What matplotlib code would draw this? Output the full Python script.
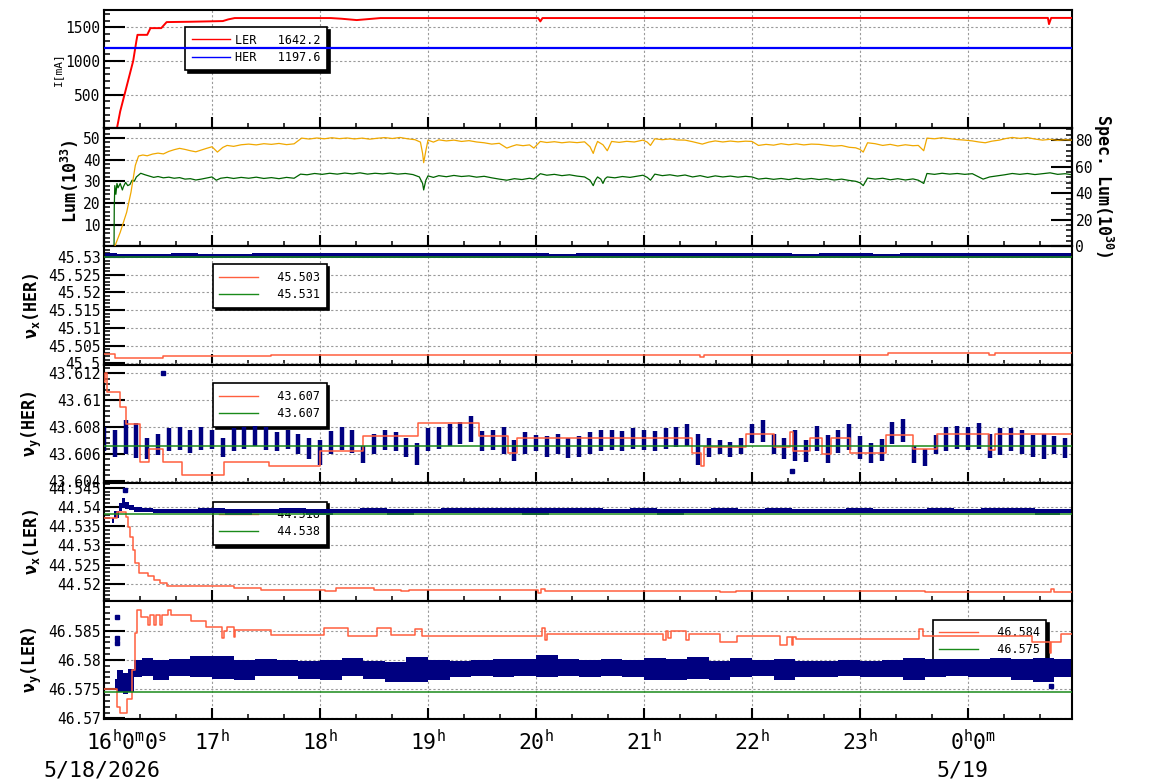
import matplotlib
matplotlib.use('Agg')
import matplotlib.pyplot as plt
from matplotlib.lines import Line2D
from matplotlib.ticker import FixedLocator, MultipleLocator, AutoMinorLocator, FuncFormatter

plt.rcParams['font.family'] = 'DejaVu Sans Mono'
plt.rcParams['mathtext.fontset'] = 'custom'
plt.rcParams['mathtext.rm'] = 'DejaVu Sans Mono'
plt.rcParams['mathtext.it'] = 'DejaVu Sans Mono'
plt.rcParams['mathtext.bf'] = 'DejaVu Sans Mono:bold'

# time axis: hours after 16:00 on 5/18/2026
T_END = 8.963
HOUR_TICKS = [0, 1, 2, 3, 4, 5, 6, 7, 8]
HOUR_LABELS = [r'16$^\mathrm{h}$0$^\mathrm{m}$0$^\mathrm{s}$', r'17$^\mathrm{h}$', r'18$^\mathrm{h}$',
               r'19$^\mathrm{h}$', r'20$^\mathrm{h}$', r'21$^\mathrm{h}$', r'22$^\mathrm{h}$',
               r'23$^\mathrm{h}$', r'0$^\mathrm{h}$0$^\mathrm{m}$']
DATE_LABELS = ['5/18/2026', '5/19']

# ---- panel 1: beam current [mA]
T_LER = [0, 0.12, 0.15, 0.19, 0.23, 0.27, 0.30, 0.31, 0.40, 0.43, 0.53, 0.58, 0.80, 1.10, 1.15, 1.21,
         2.10, 2.20, 2.34, 2.45, 2.56, 4.02, 4.04, 4.06, 8.74, 8.75, 8.77, 8.963]
I_LER = [0, 0, 250, 500, 750, 1000, 1300, 1390, 1390, 1490, 1490, 1580, 1585, 1595, 1620, 1640,
         1640, 1630, 1610, 1625, 1640, 1640, 1590, 1640, 1642, 1550, 1642, 1642]
T_HER = [0, 8.963]
I_HER = [1197.6, 1197.6]
CUR_LABELS = ['LER   1642.2', 'HER   1197.6']

# ---- panel 2: luminosity (left axis, green) and specific luminosity (right axis, yellow)
T_LUM = [0.093, 0.095, 0.10, 0.11, 0.12, 0.13, 0.15, 0.17, 0.18, 0.20, 0.22, 0.24, 0.26, 0.28, 0.30,
         0.34, 0.38, 0.42, 0.46, 0.50, 0.55, 0.60, 0.65, 0.70, 0.75, 0.80, 0.85, 0.90, 0.95, 1.00,
         1.04, 1.08, 1.14, 1.20, 1.27, 1.34, 1.41, 1.48, 1.55, 1.62, 1.69, 1.76, 1.82, 1.88, 1.95,
         2.02, 2.09, 2.16, 2.23, 2.30, 2.37, 2.44, 2.51, 2.58, 2.65, 2.72, 2.79, 2.86, 2.92, 2.95,
         2.96, 2.98, 3.00, 3.05, 3.10, 3.17, 3.24, 3.31, 3.38, 3.45, 3.52, 3.59, 3.66, 3.73, 3.80,
         3.87, 3.94, 3.98, 4.04, 4.10, 4.17, 4.24, 4.31, 4.38, 4.45, 4.50, 4.53, 4.55, 4.57, 4.60,
         4.62, 4.64, 4.66, 4.73, 4.80, 4.87, 4.94, 4.99, 5.03, 5.06, 5.10, 5.17, 5.24, 5.31, 5.38,
         5.45, 5.52, 5.59, 5.66, 5.73, 5.80, 5.87, 5.94, 6.00, 6.06, 6.13, 6.20, 6.27, 6.34, 6.41,
         6.48, 6.55, 6.62, 6.69, 6.76, 6.83, 6.90, 6.96, 7.00, 7.03, 7.07, 7.14, 7.21, 7.28, 7.35,
         7.42, 7.49, 7.54, 7.59, 7.62, 7.69, 7.76, 7.83, 7.90, 7.97, 8.04, 8.10, 8.14, 8.20, 8.27,
         8.34, 8.41, 8.48, 8.55, 8.62, 8.69, 8.76, 8.83, 8.90, 8.963]
LUM = [0, 18, 28, 24, 29, 27, 29, 26, 27.5, 29.5, 28, 28.5, 30.5, 30, 32,
       33.7, 33, 32.4, 31.8, 32.2, 31.6, 31.9, 31.4, 31.7, 31.0, 31.2, 30.6, 31.0, 31.5, 32.0,
       30.5, 31.4, 31.8, 31.3, 31.8, 31.4, 31.9, 31.3, 31.7, 31.2, 31.8, 31.4, 33.3, 33.0, 33.6,
       33.2, 33.7, 33.3, 33.8, 33.4, 33.9, 33.3, 33.7, 33.4, 33.8, 33.3, 33.6, 33.1, 32.0, 29.0,
       26.0, 30.5, 32.5, 31.8, 32.6, 32.1, 32.7, 32.2, 32.5, 31.9, 32.3, 31.6, 31.0, 30.5, 31.2,
       30.8, 31.4, 31.0, 33.5, 32.8, 33.2, 32.6, 33.0, 32.4, 32.0, 30.5, 28.0, 30.5, 32.0, 31.0,
       29.0, 31.2, 32.0, 31.6, 32.2, 31.8, 32.4, 32.8, 31.8, 30.5, 33.3, 32.6, 33.0, 32.4, 32.9,
       32.0, 32.6, 31.8, 32.5, 32.0, 32.4, 31.9, 32.3, 32.0, 31.0, 31.4, 30.9, 31.3, 30.8, 31.4,
       30.9, 31.3, 30.8, 31.2, 30.6, 31.0, 30.4, 30.0, 29.3, 28.0, 31.5, 31.0, 31.4, 30.7, 31.2,
       30.6, 31.1, 30.5, 29.0, 33.6, 33.2, 33.7, 33.3, 33.6, 33.2, 33.5, 32.0, 31.0, 32.0, 32.5,
       33.0, 33.6, 33.2, 33.6, 33.1, 33.5, 33.9, 33.2, 33.5, 33.0]
T_SPEC = [0.10, 0.15, 0.21, 0.25, 0.29, 0.32, 0.36, 0.40, 0.45, 0.50, 0.55, 0.60, 0.65, 0.70, 0.75,
          0.80, 0.85, 0.90, 0.95, 1.00, 1.05, 1.10, 1.14, 1.20, 1.27, 1.34, 1.41, 1.48, 1.55, 1.62,
          1.69, 1.76, 1.83, 1.90, 1.97, 2.04, 2.11, 2.18, 2.25, 2.32, 2.39, 2.46, 2.53, 2.60, 2.67,
          2.74, 2.81, 2.88, 2.93, 2.95, 2.96, 2.98, 3.00, 3.05, 3.10, 3.17, 3.24, 3.31, 3.38, 3.45,
          3.52, 3.59, 3.66, 3.73, 3.78, 3.82, 3.88, 3.94, 3.98, 4.04, 4.10, 4.17, 4.24, 4.31, 4.38,
          4.45, 4.50, 4.53, 4.55, 4.57, 4.62, 4.66, 4.70, 4.77, 4.84, 4.91, 4.99, 5.03, 5.06, 5.10,
          5.17, 5.24, 5.31, 5.38, 5.45, 5.54, 5.60, 5.66, 5.73, 5.80, 5.87, 5.94, 6.00, 6.06, 6.13,
          6.20, 6.27, 6.34, 6.41, 6.48, 6.55, 6.62, 6.69, 6.76, 6.83, 6.90, 6.96, 7.00, 7.03, 7.07,
          7.14, 7.21, 7.28, 7.35, 7.42, 7.49, 7.54, 7.59, 7.62, 7.69, 7.76, 7.83, 7.90, 7.97, 8.04,
          8.10, 8.16, 8.22, 8.29, 8.35, 8.41, 8.48, 8.55, 8.62, 8.69, 8.76, 8.83, 8.90, 8.963]
SPEC = [0, 10.5, 25.7, 40.8, 61, 68, 68.8, 68.2, 69.5, 70.2, 69.6, 71.5, 72.8, 73.8, 73.0,
        72.0, 71.2, 72.5, 73.8, 75.0, 71.0, 74.5, 76.0, 75.3, 76.5, 77.0, 76.4, 77.3, 76.8, 77.5,
        76.6, 77.2, 81.5, 80.8, 81.6, 81.0, 81.8, 81.1, 81.6, 80.9, 81.5, 80.7, 81.4, 81.9, 81.2,
        82.0, 81.0, 80.3, 78.5, 70.0, 63.0, 72.0, 80.0, 78.5, 80.2, 79.4, 80.0, 79.0, 79.6, 78.6,
        78.0, 77.0, 77.6, 74.0, 75.5, 76.5, 75.8, 76.4, 74.0, 79.0, 78.2, 78.8, 78.0, 78.6, 78.1,
        78.7, 75.0, 70.0, 75.0, 79.0, 76.5, 72.0, 79.0, 78.3, 79.1, 78.6, 80.0, 78.5, 76.0, 81.0,
        80.3, 80.9, 80.1, 80.0, 78.8, 77.0, 78.5, 79.4, 78.6, 79.3, 78.7, 79.2, 79.0, 76.0, 76.8,
        76.2, 77.3, 76.5, 77.2, 76.4, 77.0, 76.8, 76.1, 75.5, 75.9, 74.6, 74.2, 73.0, 71.0, 78.0,
        77.3, 76.0, 76.8, 75.6, 76.5, 75.8, 76.0, 72.0, 81.5, 81.0, 81.8, 81.1, 80.4, 80.0, 79.4,
        78.6, 78.0, 79.2, 80.0, 81.2, 82.0, 81.3, 81.9, 80.8, 80.0, 80.6, 79.8, 80.3, 80.0]

# ---- panel 3: nu_x(HER)
T_NXH_SET = [0, 0.10, 0.55, 1.55, 5.52, 5.56, 7.26, 8.19, 8.25, 8.963]
NXH_SET = [45.5027, 45.5016, 45.5020, 45.5025, 45.5018, 45.5025, 45.5028, 45.5025, 45.5028, 45.5028]
NXH_REF = 45.5300
T_NXH = [0, 0.25, 0.5, 0.75, 1, 1.25, 1.5, 1.75, 2, 2.25, 2.5, 2.75, 3, 3.25, 3.5, 3.75, 4, 4.25, 4.5,
         4.75, 5, 5.25, 5.5, 5.75, 6, 6.25, 6.5, 6.75, 7, 7.25, 7.5, 7.75, 8, 8.25, 8.5, 8.75, 8.963]
NXH_HI = [45.5310, 45.5309, 45.5309, 45.5310, 45.5309, 45.5309, 45.5311, 45.5311, 45.5310, 45.5310,
          45.5310, 45.5311, 45.5311, 45.5311, 45.5310, 45.5310, 45.5310, 45.5309, 45.5310, 45.5310,
          45.5310, 45.5311, 45.5312, 45.5310, 45.5310, 45.5310, 45.5309, 45.5310, 45.5310, 45.5309,
          45.5310, 45.5310, 45.5310, 45.5312, 45.5311, 45.5310, 45.5310]
NXH_LO = [45.5298, 45.5296, 45.5297, 45.5296, 45.5297, 45.5296, 45.5298, 45.5298, 45.5297, 45.5296,
          45.5297, 45.5298, 45.5297, 45.5298, 45.5298, 45.5297, 45.5297, 45.5296, 45.5297, 45.5298,
          45.5297, 45.5298, 45.5296, 45.5298, 45.5297, 45.5297, 45.5298, 45.5296, 45.5297, 45.5298,
          45.5297, 45.5298, 45.5297, 45.5296, 45.5297, 45.5298, 45.5297]
NXH_LABELS = ['  45.503', '  45.531']

# ---- panel 4: nu_y(HER)
T_NYH_SET = [0, 0.01, 0.03, 0.15, 0.20, 0.33, 0.42, 0.55, 0.72, 1.11, 1.53, 2.00, 2.40, 2.91, 3.47,
             3.74, 3.82, 5.44, 5.53, 5.56, 5.94, 6.20, 6.35, 6.38, 6.54, 6.65, 6.73, 6.91, 7.24, 7.49,
             7.71, 8.19, 8.25, 8.963]
NYH_SET = [43.6114, 43.6120, 43.6106, 43.6095, 43.6082, 43.6054, 43.6064, 43.6054, 43.6044, 43.6054,
           43.6051, 43.6062, 43.6073, 43.6083, 43.6073, 43.6061, 43.6072, 43.6061, 43.6051, 43.6065,
           43.6075, 43.6065, 43.6076, 43.6062, 43.6072, 43.6060, 43.6072, 43.6061, 43.6074, 43.6064,
           43.6075, 43.6063, 43.6075, 43.6075]
NYH_REF = 43.6066
T_NYH = [0.0, 0.1, 0.2, 0.3, 0.4, 0.5, 0.6, 0.7, 0.8, 0.9, 1.0, 1.1, 1.2, 1.3, 1.4, 1.5, 1.6, 1.7, 1.8,
         1.9, 2.0, 2.1, 2.2, 2.3, 2.4, 2.5, 2.6, 2.7, 2.8, 2.9, 3.0, 3.1, 3.2, 3.3, 3.4, 3.5, 3.6, 3.7,
         3.8, 3.9, 4.0, 4.1, 4.2, 4.3, 4.4, 4.5, 4.6, 4.7, 4.8, 4.9, 5.0, 5.1, 5.2, 5.3, 5.4, 5.5, 5.6,
         5.7, 5.8, 5.9, 6.0, 6.1, 6.2, 6.3, 6.4, 6.5, 6.6, 6.7, 6.8, 6.9, 7.0, 7.1, 7.2, 7.3, 7.4, 7.5,
         7.6, 7.7, 7.8, 7.9, 8.0, 8.1, 8.2, 8.3, 8.4, 8.5, 8.6, 8.7, 8.8, 8.9]
NYH_LO = [43.6062, 43.6058, 43.6060, 43.6057, 43.6056, 43.6059, 43.6062, 43.6063, 43.6061, 43.6063,
          43.6064, 43.6058, 43.6062, 43.6064, 43.6066, 43.6063, 43.6062, 43.6064, 43.6060, 43.6056,
          43.6052, 43.6060, 43.6063, 43.6061, 43.6053, 43.6060, 43.6063, 43.6062, 43.6058, 43.6052,
          43.6062, 43.6064, 43.6066, 43.6067, 43.6069, 43.6062, 43.6063, 43.6060, 43.6055, 43.6060,
          43.6062, 43.6058, 43.6060, 43.6057, 43.6058, 43.6060, 43.6062, 43.6063, 43.6062, 43.6064,
          43.6063, 43.6062, 43.6064, 43.6065, 43.6066, 43.6052, 43.6058, 43.6060, 43.6058, 43.6060,
          43.6068, 43.6069, 43.6060, 43.6056, 43.6055, 43.6054, 43.6062, 43.6053, 43.6061, 43.6063,
          43.6056, 43.6053, 43.6055, 43.6067, 43.6069, 43.6053, 43.6051, 43.6060, 43.6062, 43.6064,
          43.6063, 43.6064, 43.6057, 43.6059, 43.6062, 43.6060, 43.6058, 43.6056, 43.6060, 43.6057]
NYH_HI = [43.6080, 43.6078, 43.6085, 43.6083, 43.6072, 43.6075, 43.6079, 43.6080, 43.6078, 43.6080,
          43.6078, 43.6072, 43.6079, 43.6080, 43.6081, 43.6080, 43.6076, 43.6078, 43.6075, 43.6072,
          43.6070, 43.6077, 43.6080, 43.6078, 43.6066, 43.6075, 43.6078, 43.6076, 43.6072, 43.6068,
          43.6079, 43.6080, 43.6082, 43.6084, 43.6088, 43.6077, 43.6078, 43.6080, 43.6070, 43.6076,
          43.6074, 43.6073, 43.6075, 43.6072, 43.6073, 43.6076, 43.6078, 43.6078, 43.6077, 43.6079,
          43.6078, 43.6077, 43.6079, 43.6080, 43.6082, 43.6075, 43.6072, 43.6070, 43.6069, 43.6072,
          43.6082, 43.6085, 43.6075, 43.6072, 43.6078, 43.6070, 43.6081, 43.6074, 43.6078, 43.6082,
          43.6073, 43.6068, 43.6071, 43.6084, 43.6086, 43.6066, 43.6064, 43.6074, 43.6080, 43.6081,
          43.6080, 43.6083, 43.6075, 43.6079, 43.6079, 43.6078, 43.6074, 43.6075, 43.6073, 43.6072]
T_NYH_OUT = [0.55, 6.37]
NYH_OUT = [43.6120, 43.6047]
NYH_LABELS = ['  43.607', '  43.607']

# ---- panel 5: nu_x(LER)
T_NXL_SET = [0, 0.12, 0.20, 0.22, 0.24, 0.27, 0.29, 0.32, 0.41, 0.46, 0.52, 0.58, 1.20, 1.45, 2.05,
             2.15, 2.50, 2.75, 2.82, 4.02, 4.05, 4.08, 4.50, 5.15, 5.25, 5.70, 5.85, 7.60, 8.77, 8.80, 8.963]
NXL_SET = [44.5371, 44.5387, 44.5375, 44.5349, 44.5323, 44.5289, 44.5254, 44.5228, 44.5219, 44.5211,
           44.5203, 44.5195, 44.5189, 44.5184, 44.5182, 44.5189, 44.5184, 44.5182, 44.5184, 44.5177,
           44.5186, 44.5182, 44.5180, 44.5181, 44.5180, 44.5179, 44.5180, 44.5178, 44.5186, 44.5179, 44.5179]
NXL_REF = 44.53815
T_NXL = [0.07, 0.12, 0.15, 0.18, 0.21, 0.25, 0.30, 0.40, 0.50, 0.75, 1.0, 1.25, 1.5, 1.75, 2.0, 2.25,
         2.5, 2.75, 3.0, 3.25, 3.5, 3.75, 4.0, 4.25, 4.5, 4.75, 5.0, 5.25, 5.5, 5.75, 6.0, 6.25, 6.5,
         6.75, 7.0, 7.25, 7.5, 7.75, 8.0, 8.25, 8.5, 8.75, 8.963]
NXL_HI = [44.5372, 44.5390, 44.5410, 44.5424, 44.5412, 44.5405, 44.5400, 44.5398, 44.5395, 44.5395,
          44.5396, 44.5395, 44.5395, 44.5396, 44.5395, 44.5395, 44.5396, 44.5395, 44.5395, 44.5396,
          44.5397, 44.5397, 44.5397, 44.5396, 44.5396, 44.5395, 44.5396, 44.5395, 44.5395, 44.5396,
          44.5395, 44.5396, 44.5395, 44.5395, 44.5396, 44.5395, 44.5395, 44.5396, 44.5395, 44.5396,
          44.5396, 44.5395, 44.5395]
NXL_LO = [44.5359, 44.5372, 44.5390, 44.5398, 44.5395, 44.5392, 44.5388, 44.5386, 44.5384, 44.5384,
          44.5383, 44.5379, 44.5384, 44.5384, 44.5380, 44.5384, 44.5383, 44.5379, 44.5384, 44.5384,
          44.5384, 44.5384, 44.5379, 44.5384, 44.5384, 44.5384, 44.5383, 44.5380, 44.5384, 44.5384,
          44.5383, 44.5384, 44.5384, 44.5384, 44.5383, 44.5384, 44.5384, 44.5384, 44.5383, 44.5384,
          44.5384, 44.5379, 44.5384]
T_NXL_OUT = [0.19]
NXL_OUT = [44.5445]
NXL_LABELS = ['  44.518', '  44.538']

# ---- panel 6: nu_y(LER)
T_NYL_SET = [0, 0.12, 0.15, 0.21, 0.26, 0.29, 0.31, 0.34, 0.41, 0.43, 0.46, 0.48, 0.52, 0.54, 0.59,
             0.62, 0.81, 0.94, 1.09, 1.11, 1.14, 1.20, 1.21, 1.55, 2.04, 2.26, 2.53, 2.66, 2.88, 2.94,
             4.06, 4.08, 4.10, 5.18, 5.20, 5.22, 5.25, 5.39, 5.42, 5.70, 5.86, 6.26, 6.32, 6.37, 6.38,
             6.41, 7.55, 7.58, 8.59, 8.76, 8.77, 8.86, 8.963]
NYL_SET = [46.5750, 46.5720, 46.5709, 46.5734, 46.5783, 46.5846, 46.5886, 46.5874, 46.5860, 46.5877,
           46.5860, 46.5877, 46.5860, 46.5877, 46.5886, 46.5876, 46.5866, 46.5857, 46.5837, 46.5849,
           46.5857, 46.5840, 46.5851, 46.5843, 46.5854, 46.5841, 46.5854, 46.5843, 46.5853, 46.5841,
           46.5854, 46.5834, 46.5844, 46.5834, 46.5850, 46.5837, 46.5849, 46.5834, 46.5844, 46.5830,
           46.5841, 46.5826, 46.5840, 46.5826, 46.5839, 46.5835, 46.5852, 46.5841, 46.5831, 46.5811,
           46.5831, 46.5844, 46.5844]
NYL_REF = 46.57447
T_NYL = [0.10, 0.15, 0.20, 0.25, 0.30, 0.40, 0.5, 0.7, 0.9, 1.1, 1.3, 1.5, 1.7, 1.9, 2.1, 2.3, 2.5,
         2.7, 2.9, 3.1, 3.3, 3.5, 3.7, 3.9, 4.1, 4.3, 4.5, 4.7, 4.9, 5.1, 5.3, 5.5, 5.7, 5.9, 6.1,
         6.3, 6.5, 6.7, 6.9, 7.1, 7.3, 7.5, 7.7, 7.9, 8.1, 8.3, 8.5, 8.7, 8.9, 8.963]
NYL_LO = [46.5752, 46.5745, 46.5742, 46.5745, 46.5770, 46.5772, 46.5766, 46.5773, 46.5770, 46.5768,
          46.5766, 46.5773, 46.5772, 46.5767, 46.5765, 46.5773, 46.5767, 46.5762, 46.5763, 46.5766,
          46.5770, 46.5772, 46.5771, 46.5772, 46.5770, 46.5772, 46.5770, 46.5773, 46.5770, 46.5765,
          46.5766, 46.5768, 46.5765, 46.5770, 46.5772, 46.5766, 46.5771, 46.5770, 46.5772, 46.5771,
          46.5770, 46.5766, 46.5771, 46.5772, 46.5770, 46.5771, 46.5766, 46.5762, 46.5770, 46.5770]
NYL_HI = [46.5768, 46.5782, 46.5778, 46.5785, 46.5800, 46.5803, 46.5800, 46.5802, 46.5806, 46.5806,
          46.5800, 46.5801, 46.5800, 46.5798, 46.5800, 46.5803, 46.5798, 46.5797, 46.5805, 46.5800,
          46.5799, 46.5800, 46.5801, 46.5802, 46.5808, 46.5801, 46.5800, 46.5802, 46.5800, 46.5803,
          46.5802, 46.5805, 46.5799, 46.5804, 46.5800, 46.5801, 46.5799, 46.5798, 46.5800, 46.5799,
          46.5800, 46.5803, 46.5801, 46.5802, 46.5801, 46.5803, 46.5801, 46.5804, 46.5801, 46.5801]
T_NYL_OUT = [0.12, 0.12, 0.12, 8.77]
NYL_OUT = [46.5874, 46.5838, 46.5829, 46.5755]
NYL_LABELS = ['  46.584', '  46.575']

RED, BLUE = '#ff0000', '#0000ff'
YEL, DKGREEN = '#f0a800', '#006400'
SETRED, REFGREEN, NAVY = '#ff5f3f', '#1a8a1a', '#000080'


def style(ax, ylim, yticks):
    ax.set_xlim(0, T_END)
    ax.set_ylim(*ylim)
    ax.xaxis.set_major_locator(FixedLocator(HOUR_TICKS))
    ax.xaxis.set_minor_locator(MultipleLocator(1 / 3))
    ax.yaxis.set_major_locator(FixedLocator(yticks))
    ax.yaxis.set_minor_locator(AutoMinorLocator(5))
    ax.yaxis.set_major_formatter(FuncFormatter(lambda v, p: f'{v:g}'))
    ax.tick_params(axis='x', which='major', direction='in', length=8, width=1.5,
                   labelbottom=False, top=False)
    ax.tick_params(axis='x', which='minor', direction='in', length=3.5, width=1.1, top=False)
    ax.tick_params(axis='y', which='major', direction='in', length=15, width=1.5,
                   labelsize=10.5, pad=2.5, right=False)
    ax.tick_params(axis='y', which='minor', direction='in', length=4.5, width=1.1, right=False)
    for sp in ax.spines.values():
        sp.set_linewidth(1.5)
    ax.grid(True, which='major', color='#9a9a9a', ls=(0, (2, 2)), lw=0.8)
    ax.set_axisbelow(True)


def add_legend(ax, handles, labels, x, y):
    leg = ax.legend(handles, labels, loc='upper left', bbox_to_anchor=(x, y), borderaxespad=0,
                    prop={'family': 'DejaVu Sans Mono', 'size': 8.5}, handlelength=3.3,
                    handletextpad=0.4, labelspacing=0.35, borderpad=0.55, fancybox=False,
                    framealpha=1, edgecolor='black', shadow={'color': 'black', 'alpha': 1})
    leg.get_frame().set_linewidth(1.2)
    leg.set_zorder(1)
    return leg


def tune_handles():
    return [Line2D([], [], color=SETRED, lw=1.0), Line2D([], [], color=REFGREEN, lw=1.0)]


def main():
    fig = plt.figure(figsize=(11.54, 7.82), dpi=100)
    gs = fig.add_gridspec(6, 1, left=104 / 1154, right=1072 / 1154,
                          top=1 - 10 / 782, bottom=1 - 719 / 782, hspace=0)
    axes = [fig.add_subplot(gs[i]) for i in range(6)]
    ax1, ax2, ax3, ax4, ax5, ax6 = axes

    # current
    style(ax1, (0, 1760), [500, 1000, 1500])
    ax1.plot(T_LER, I_LER, color=RED, lw=1.4, zorder=3)
    ax1.plot(T_HER, I_HER, color=BLUE, lw=1.6, zorder=3)
    add_legend(ax1, [Line2D([], [], color=RED, lw=1.0), Line2D([], [], color=BLUE, lw=1.0)],
               CUR_LABELS, 0.0837, 0.856)
    ax1.set_ylabel('I[mA]', fontsize=8, va='center')
    ax1.yaxis.set_label_coords(-0.0475, 0.5)

    # luminosity
    style(ax2, (0, 54.5), [10, 20, 30, 40, 50])
    ax2.plot(T_LUM, LUM, color=DKGREEN, lw=0.9, zorder=3)
    ax2.set_ylabel(r'Lum(10$^{\mathbf{33}}$)', fontsize=12, fontweight='bold', va='center')
    ax2.yaxis.set_label_coords(-0.0351, 0.55)
    ax2r = ax2.twinx()
    ax2r.set_xlim(0, T_END)
    ax2r.set_ylim(0, 89)
    ax2r.plot(T_SPEC, SPEC, color=YEL, lw=0.9, zorder=3)
    ax2r.yaxis.set_major_locator(FixedLocator([0, 20, 40, 60, 80]))
    ax2r.yaxis.set_minor_locator(AutoMinorLocator(5))
    ax2r.tick_params(axis='y', which='major', direction='in', length=15, width=1.5,
                     labelsize=10.5, pad=2.5)
    ax2r.tick_params(axis='y', which='minor', direction='in', length=4.5, width=1.1)
    for sp in ax2r.spines.values():
        sp.set_linewidth(1.5)
    fig.text(1103 / 1154, 1 - 186 / 782, r'Spec. Lum(10$^{\mathbf{30}}$)', rotation=270,
             ha='center', va='center', fontsize=12, fontweight='bold')

    # nu_x(HER)
    style(ax3, (45.4997, 45.533), [45.5, 45.505, 45.51, 45.515, 45.52, 45.525, 45.53])
    ax3.fill_between(T_NXH, NXH_LO, NXH_HI, step='mid', color=NAVY, lw=0, zorder=2.5)
    ax3.step(T_NXH_SET, NXH_SET, where='post', color=SETRED, lw=1.1, zorder=3)
    ax3.axhline(NXH_REF, color=REFGREEN, lw=1.1, zorder=3.5)
    add_legend(ax3, tune_handles(), NXH_LABELS, 0.1126, 0.847)
    ax3.set_ylabel(r'ν$_\mathbf{x}$(HER)', fontsize=12, fontweight='bold', va='center')
    ax3.yaxis.set_label_coords(-0.0749, 0.5)

    # nu_y(HER)
    style(ax4, (43.60385, 43.61267), [43.604, 43.606, 43.608, 43.61, 43.612])
    ax4.vlines(T_NYH, NYH_LO, NYH_HI, colors=NAVY, lw=3.2, zorder=2.5)
    ax4.plot(T_NYH_OUT, NYH_OUT, 's', ms=3, color=NAVY, zorder=2.5)
    ax4.step(T_NYH_SET, NYH_SET, where='post', color=SETRED, lw=1.1, zorder=3)
    ax4.axhline(NYH_REF, color=REFGREEN, lw=1.1, zorder=3.5)
    add_legend(ax4, tune_handles(), NYH_LABELS, 0.1126, 0.84)
    ax4.set_ylabel(r'ν$_\mathbf{y}$(HER)', fontsize=12, fontweight='bold', va='center')
    ax4.yaxis.set_label_coords(-0.0749, 0.5)

    # nu_x(LER)
    style(ax5, (44.51557, 44.5463), [44.52, 44.525, 44.53, 44.535, 44.54, 44.545])
    ax5.fill_between(T_NXL, NXL_LO, NXL_HI, step='mid', color=NAVY, lw=0, zorder=2.5)
    ax5.plot(T_NXL_OUT, NXL_OUT, 's', ms=3, color=NAVY, zorder=2.5)
    ax5.step(T_NXL_SET, NXL_SET, where='post', color=SETRED, lw=1.1, zorder=3)
    ax5.axhline(NXL_REF, color=REFGREEN, lw=1.1, zorder=3.5)
    add_legend(ax5, tune_handles(), NXL_LABELS, 0.1126, 0.839)
    ax5.set_ylabel(r'ν$_\mathbf{x}$(LER)', fontsize=12, fontweight='bold', va='center')
    ax5.yaxis.set_label_coords(-0.0749, 0.5)

    # nu_y(LER)
    style(ax6, (46.5699, 46.5901), [46.57, 46.575, 46.58, 46.585])
    ax6.fill_between(T_NYL, NYL_LO, NYL_HI, step='mid', color=NAVY, lw=0, zorder=2.5)
    ax6.plot(T_NYL_OUT, NYL_OUT, 's', ms=3, color=NAVY, zorder=2.5)
    ax6.step(T_NYL_SET, NYL_SET, where='post', color=SETRED, lw=1.1, zorder=3)
    ax6.axhline(NYL_REF, color=REFGREEN, lw=1.1, zorder=3.5)
    add_legend(ax6, tune_handles(), NYL_LABELS, 0.856, 0.839)
    ax6.set_ylabel(r'ν$_\mathbf{y}$(LER)', fontsize=12, fontweight='bold', va='center')
    ax6.yaxis.set_label_coords(-0.0749, 0.5)

    # time labels under the bottom panel
    for hr, lab in zip(HOUR_TICKS, HOUR_LABELS):
        if hr in (0, 8):
            ax6.annotate(lab, xy=(hr, 0), xycoords=('data', 'axes fraction'), xytext=(-18, -31),
                         textcoords='offset pixels', ha='left', va='baseline', fontsize=15.5)
        else:
            ax6.annotate(lab, xy=(hr, 0), xycoords=('data', 'axes fraction'), xytext=(0, -31),
                         textcoords='offset pixels', ha='center', va='baseline', fontsize=15.5)
    for hr, lab, dx in zip([0, 8], DATE_LABELS, [-2, -6]):
        ax6.annotate(lab, xy=(hr, 0), xycoords=('data', 'axes fraction'), xytext=(dx, -57),
                     textcoords='offset pixels', ha='center', va='baseline', fontsize=15.5)

    fig.savefig('out.png', dpi=100, facecolor='white')


if __name__ == '__main__':
    main()
